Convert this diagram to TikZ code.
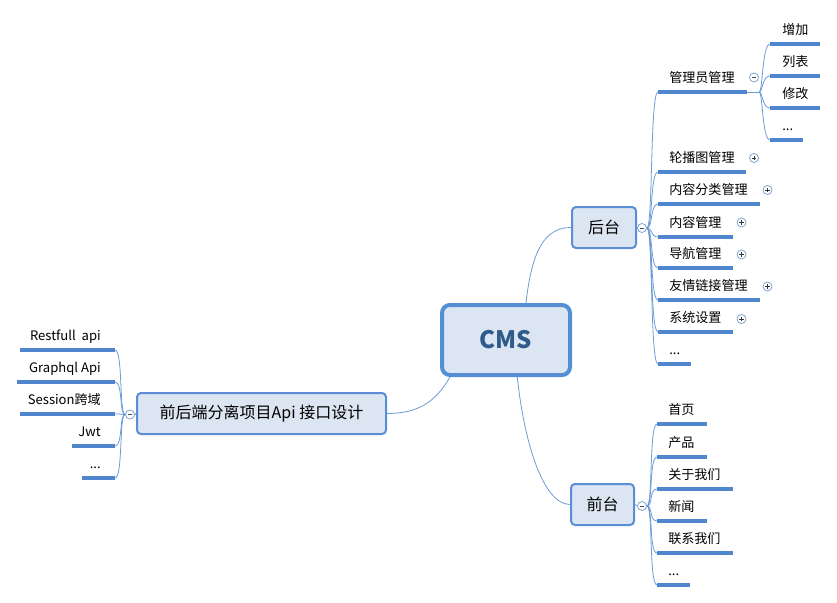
\documentclass[tikz,border=0pt]{standalone}
\usepackage{fontspec}
\setmainfont{Noto Sans CJK SC}
\newcommand\moredots{...}
\definecolor{boxfill}{HTML}{DCE6F2}
\definecolor{boxline}{HTML}{5B8ED6}
\definecolor{cmsline}{HTML}{558ED5}
\definecolor{cmstext}{HTML}{2E5A8C}
\definecolor{wire}{HTML}{6C9BD8}
\definecolor{uline}{HTML}{4F86CE}
\definecolor{knob}{HTML}{7FA3D0}
\begin{document}
\begin{tikzpicture}[x=0.75pt,y=-0.75pt,
  topic/.style={draw=cmsline,line width=3pt,fill=boxfill,rounded corners=6pt,
    minimum width=96pt,minimum height=52.5pt,font=\fontsize{18}{20}\selectfont\bfseries,text=cmstext},
  sub/.style={draw=boxline,line width=1.5pt,fill=boxfill,rounded corners=3pt,
    minimum height=30.75pt,inner xsep=6pt,font=\fontsize{12}{14}\selectfont},
  lbl/.style={font=\fontsize{9.8}{11}\selectfont,inner sep=0pt,anchor=base west},
  rlbl/.style={font=\fontsize{9.8}{11}\selectfont,inner sep=0pt,anchor=base east},
  wireline/.style={draw=wire,line width=0.6pt},
  underln/.style={draw=uline,line width=2.3pt},
  knobbase/.style={circle,draw=knob,line width=0.6pt,fill=white,minimum size=6.8pt,inner sep=0pt},
  minus/.style={knobbase,path picture={\draw[black!70,line width=0.45pt]
      ([xshift=1.6pt]path picture bounding box.west) -- ([xshift=-1.6pt]path picture bounding box.east);}},
  plus/.style={knobbase,path picture={\draw[black!80,line width=0.45pt]
      ([xshift=1.6pt]path picture bounding box.west) -- ([xshift=-1.6pt]path picture bounding box.east)
      ([yshift=-1.6pt]path picture bounding box.north) -- ([yshift=1.6pt]path picture bounding box.south);}}
]
\useasboundingbox (0,0) rectangle (837,602);

% ---------- central topic and main branches ----------
\node[topic] (cms) at (506,340) {CMS};
\node[sub,minimum width=48pt] (back) at (604,227.5) {后台};
\node[sub,minimum width=47.25pt] (front) at (602.5,504.5) {前台};
\node[sub,minimum width=186.75pt] (api) at (261.5,413.5) {前后端分离项目Api 接口设计};

\draw[wireline] ([xshift=15pt]cms.north) .. controls +(6,-55) and +(-25,0) .. (back.west);
\draw[wireline] ([xshift=8.5pt]cms.south) .. controls +(6,60) and +(-28,0) .. (front.west);
\draw[wireline] ([xshift=-42pt]cms.south) .. controls +(-15,26) and +(30,0) .. (api.east);

% ---------- collapse knobs ----------
\node[minus] (kback) at (642,228) {};
\node[minus] (kfront) at (642,506) {};
\node[minus] (kapi) at (130,414.5) {};
\draw[wireline] (back.east) -- (kback.west);
\draw[wireline] (front.east) -- (kfront.west);
\draw[wireline] (api.west) -- (kapi.east);

% ---------- 后台 children ----------
\foreach \id/\y/\xe/\txt in {b1/92/747/管理员管理, b2/172/746/轮播图管理, b3/204/760/内容分类管理,
    b4/237/733/内容管理, b5/268/733/导航管理, b6/300/760/友情链接管理, b7/332/733/系统设置, b8/364/691/\moredots}{
  \coordinate (\id s) at (658,\y);
  \coordinate (\id e) at (\xe,\y);
  \node[lbl] (\id t) at (669,\y-9.5) {\txt};
  \draw[underln] (\id s) -- (\id e);
  \draw[wireline] (kback.east) .. controls +(6,0) and +(-8,0) .. (\id s);
}
\node[minus] (kb1) at (754,77.5) {};
\node[plus] (kb2) at (754,158) {};
\node[plus] (kb3) at (767.5,190) {};
\node[plus] (kb4) at (741.5,222.5) {};
\node[plus] (kb5) at (741.5,254.5) {};
\node[plus] (kb6) at (767.5,286.5) {};
\node[plus] (kb7) at (741.5,319) {};

% ---------- 管理员管理 children ----------
\coordinate (b1j) at (759,92);
\draw[wireline] (b1e) -- (b1j);
\foreach \id/\y/\xe/\txt in {c1/44/820/增加, c2/76/820/列表, c3/108/820/修改, c4/140/803/\moredots}{
  \coordinate (\id s) at (770,\y);
  \coordinate (\id e) at (\xe,\y);
  \node[lbl] (\id t) at (782,\y-9.5) {\txt};
  \draw[underln] (\id s) -- (\id e);
  \draw[wireline] (b1j) .. controls +(4,0) and +(-8,0) .. (\id s);
}

% ---------- 前台 children ----------
\foreach \id/\y/\xe/\txt in {f1/424/707/首页, f2/457/707/产品, f3/489/733/关于我们,
    f4/521/707/新闻, f5/553/733/联系我们, f6/585/690/\moredots}{
  \coordinate (\id s) at (657,\y);
  \coordinate (\id e) at (\xe,\y);
  \node[lbl] (\id t) at (668,\y-9.5) {\txt};
  \draw[underln] (\id s) -- (\id e);
  \draw[wireline] (kfront.east) .. controls +(6,0) and +(-8,0) .. (\id s);
}

% ---------- 接口设计 children ----------
\foreach \id/\y/\xs/\txt in {a1/350/20/Restfull\ \ api, a2/382/17/Graphql Api, a3/414/20/Session跨域,
    a4/446/72/Jwt, a5/478/82/\moredots}{
  \coordinate (\id s) at (115,\y);
  \coordinate (\id e) at (\xs,\y);
  \node[rlbl] (\id t) at (101,\y-9.5) {\txt};
  \draw[underln] (\id s) -- (\id e);
  \draw[wireline] (kapi.west) .. controls +(-6,0) and +(8,0) .. (\id s);
}
\end{tikzpicture}
\end{document}
